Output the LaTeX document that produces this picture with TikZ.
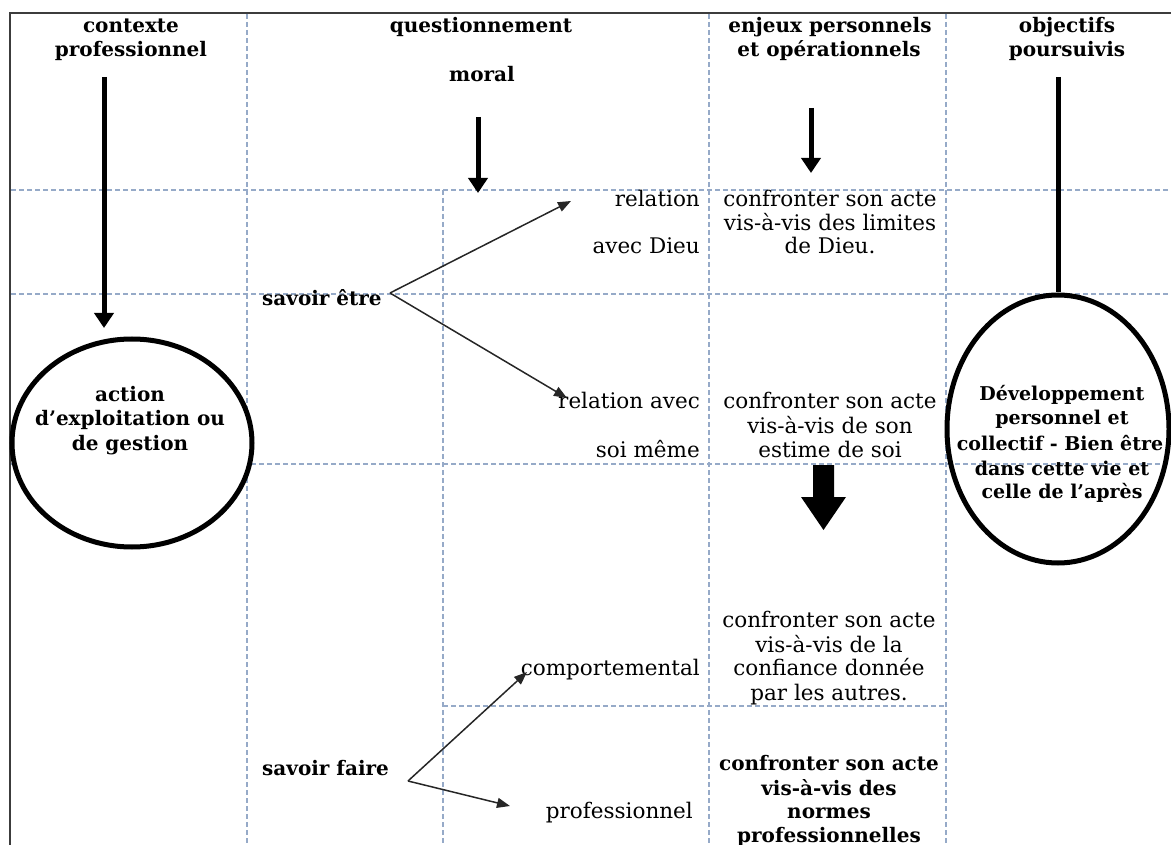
\documentclass[tikz,border=0pt]{standalone}
\usepackage{fontspec}
\setmainfont{DejaVu Serif}
\usetikzlibrary{arrows.meta,shapes.geometric}
\definecolor{gridc}{RGB}{150,170,200}
\definecolor{framec}{RGB}{60,60,60}
\begin{document}
\begin{tikzpicture}[x=1pt,y=-1pt,
  grid/.style={draw=gridc, line width=1.3pt, dash pattern=on 5pt off 3pt},
  frame/.style={draw=framec, line width=1.6pt},
  hd/.style={font=\fontsize{20}{24}\selectfont\bfseries, inner sep=0pt, anchor=base},
  bx/.style={font=\fontsize{20}{24}\selectfont\bfseries, inner sep=0pt, anchor=base},
  ex/.style={font=\fontsize{19}{24}\selectfont\bfseries, inner sep=0pt, anchor=base},
  tx/.style={font=\fontsize{21.5}{24}\selectfont, inner sep=0pt, anchor=base},
  bigarrow/.style={draw=black, line width=5pt, -{Triangle[width=19pt,length=15pt]}},
  bigline/.style={draw=black, line width=5pt},
  thinarrow/.style={draw=black!85, line width=1.5pt, -{Triangle[width=10pt,length=13pt]}},
  ring/.style={ellipse, draw=black, line width=5pt, inner sep=0pt}
]
\useasboundingbox (0,0) rectangle (1171,845);
% frame
\coordinate (fTR) at (1171,13);
\coordinate (fTL) at (10,13);
\coordinate (fBL) at (10,845);
\draw[frame] (fTR) -- (fTL) -- (fBL);
% grid
\coordinate (v1t) at (247,14); \coordinate (v1b) at (247,845);
\coordinate (v2t) at (709,14); \coordinate (v2b) at (709,845);
\coordinate (v3t) at (946,14); \coordinate (v3b) at (946,845);
\coordinate (v4t) at (443,190); \coordinate (v4b) at (443,845);
\coordinate (h1l) at (11,190); \coordinate (h1r) at (1171,190);
\coordinate (h2l) at (11,294); \coordinate (h2r) at (1171,294);
\coordinate (h3l) at (11,464); \coordinate (h3r) at (1171,464);
\coordinate (h4l) at (443,706); \coordinate (h4r) at (946,706);
\draw[grid] (v1t) -- (v1b);
\draw[grid] (v2t) -- (v2b);
\draw[grid] (v3t) -- (v3b);
\draw[grid] (v4t) -- (v4b);
\draw[grid] (h1l) -- (h1r);
\draw[grid] (h2l) -- (h2r);
\draw[grid] (h3l) -- (h3r);
\draw[grid] (h4l) -- (h4r);
% headers
\node[hd] (h1a) at (131,33) {contexte};
\node[hd] (h1b) at (131,57) {professionnel};
\node[hd] (h2a) at (481,33) {questionnement};
\node[hd] (h2b) at (482,82) {moral};
\node[hd] (h3a) at (830,33) {enjeux personnels};
\node[hd] (h3b) at (829,57) {et opérationnels};
\node[hd] (h4a) at (1067,33) {objectifs};
\node[hd] (h4b) at (1067,57) {poursuivis};
% ellipses
\node[ring, fill=white, minimum width=240pt, minimum height=208pt] (E1) at (132,443) {};
\node[ring, minimum width=222pt, minimum height=268pt] (E2) at (1058,429) {};
\node[bx] (a1) at (130,401) {action};
\node[bx] (a2) at (130,425) {d’exploitation ou};
\node[bx] (a3) at (130,450) {de gestion};
\node[ex] (d1) at (1062,400) {Développement};
\node[ex] (d2) at (1062,424) {personnel et};
\node[ex] (d3) at (1060,450) {collectif - Bien être};
\node[ex] (d4) at (1062,475) {dans cette vie et};
\node[ex] (d5) at (1062,498) {celle de l’après};
% row texts
\node[tx,anchor=base east] (r1a) at (700,207) {relation};
\node[tx,anchor=base east] (r1b) at (700,254) {avec Dieu};
\node[tx] (c1a) at (830,207) {confronter son acte};
\node[tx] (c1b) at (830,231) {vis-à-vis des limites};
\node[tx] (c1c) at (830,254) {de Dieu.};
\node[bx,anchor=base west] (se) at (262,306) {savoir être};
\node[tx,anchor=base east] (r2a) at (700,408) {relation avec};
\node[tx,anchor=base east] (r2b) at (700,457) {soi même};
\node[tx] (c2a) at (830,408) {confronter son acte};
\node[tx] (c2b) at (830,433) {vis-à-vis de son};
\node[tx] (c2c) at (830,457) {estime de soi};
\node[tx] (c3a) at (829,627) {confronter son acte};
\node[tx] (c3b) at (829,652) {vis-à-vis de la};
\node[tx] (c3c) at (829,675) {confiance donnée};
\node[tx] (c3d) at (829,700) {par les autres.};
\node[tx,anchor=base east] (cp) at (700,675) {comportemental};
\node[bx,anchor=base west] (sf) at (262,775) {savoir faire};
\node[tx,anchor=base east] (pr) at (693,818) {professionnel};
\node[bx] (c4a) at (829,770) {confronter son acte};
\node[bx] (c4b) at (829,795) {vis-à-vis des};
\node[bx] (c4c) at (829,818) {normes};
\node[bx] (c4d) at (829,842) {professionnelles};
% thick arrows
\coordinate (s1) at (104,77); \coordinate (e1) at (104,328);
\draw[bigarrow] (s1) -- (e1);
\coordinate (s2) at (478,117); \coordinate (e2) at (478,193);
\draw[bigarrow] (s2) -- (e2);
\coordinate (s3) at (811,108); \coordinate (e3) at (811,173);
\draw[bigarrow] (s3) -- (e3);
\coordinate (s4) at (1058,77);
\draw[bigline] (s4) -- (E2);
% big block arrow
\coordinate (ba1) at (813,465); \coordinate (ba2) at (834,465);
\coordinate (ba3) at (834,497); \coordinate (ba4) at (846,497);
\coordinate (ba5) at (823.5,530); \coordinate (ba6) at (801,497);
\coordinate (ba7) at (813,497);
\fill[black] (ba1) -- (ba2) -- (ba3) -- (ba4) -- (ba5) -- (ba6) -- (ba7) -- cycle;
% thin arrows
\coordinate (b1) at (390,293);
\coordinate (t1) at (571,201);
\coordinate (t2) at (567,398);
\draw[thinarrow] (b1) -- (t1);
\draw[thinarrow] (b1) -- (t2);
\coordinate (b2) at (408,781);
\coordinate (t3) at (527,672);
\coordinate (t4) at (510,806);
\draw[thinarrow] (b2) -- (t3);
\draw[thinarrow] (b2) -- (t4);
\end{tikzpicture}
\end{document}
